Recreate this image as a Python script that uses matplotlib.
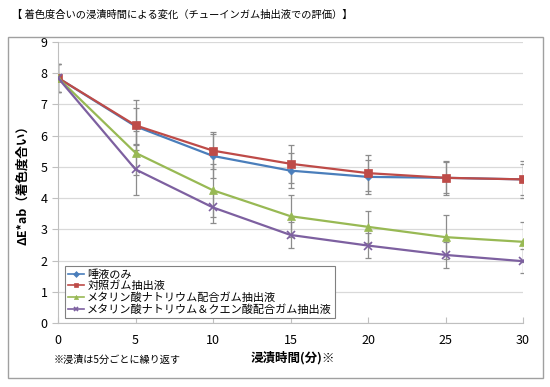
import matplotlib
matplotlib.use("Agg")
import matplotlib.pyplot as plt
from matplotlib.patches import Rectangle

plt.rcParams['font.family'] = ['Noto Sans CJK JP', 'DejaVu Sans']

times = [0, 5, 10, 15, 20, 25, 30]
labels = ['唾液のみ', '対照ガム抽出液', 'メタリン酸ナトリウム配合ガム抽出液', 'メタリン酸ナトリウム＆クエン酸配合ガム抽出液']
saliva = [7.85, 6.30, 5.35, 4.88, 4.68, 4.65, 4.60]
control = [7.85, 6.33, 5.52, 5.10, 4.80, 4.65, 4.60]
metaphos = [7.85, 5.45, 4.25, 3.42, 3.08, 2.75, 2.60]
metaphos_citric = [7.85, 4.92, 3.70, 2.82, 2.48, 2.18, 1.98]
err_saliva = [0.45, 0.60, 0.70, 0.55, 0.55, 0.50, 0.50]
err_control = [0.45, 0.80, 0.60, 0.60, 0.58, 0.55, 0.60]
err_metaphos = [0.45, 0.70, 0.85, 0.68, 0.52, 0.70, 0.64]
err_metaphos_citric = [0.45, 0.82, 0.50, 0.42, 0.40, 0.42, 0.38]

series = [saliva, control, metaphos, metaphos_citric]
errs = [err_saliva, err_control, err_metaphos, err_metaphos_citric]
colors = ['#4A7EBB', '#BE4B48', '#98B954', '#7D60A0']
markers = ['D', 's', '^', 'x']
msizes = [3.5, 6, 6, 6]

fig = plt.figure(figsize=(5.5, 3.87), dpi=100)
fig.patches.append(Rectangle((8/550, 1-378/387), 535/550, 341/387, transform=fig.transFigure,
                             fill=False, edgecolor='#A0A0A0', linewidth=1))
ax = fig.add_axes([58/550, 1-323/387, 465/550, 281/387])

for s, e in zip(series, errs):
    ax.errorbar(times, s, yerr=e, fmt='none', ecolor='#8C8C8C', elinewidth=0.9, capsize=2, capthick=0.9, zorder=2)
for s, c, m, ms, lab in zip(series, colors, markers, msizes, labels):
    ax.plot(times, s, color=c, marker=m, markersize=ms, linewidth=1.6, label=lab, zorder=3,
            markeredgewidth=1.2 if m == 'x' else 0.5)

ax.set_xlim(0, 30)
ax.set_ylim(0, 9)
ax.set_xticks(times)
ax.set_yticks(range(0, 10))
ax.yaxis.grid(True, color='#D9D9D9', linewidth=0.9)
ax.set_axisbelow(True)
for sp in ['top', 'right']:
    ax.spines[sp].set_visible(False)
ax.spines['left'].set_color('#BFBFBF')
ax.spines['bottom'].set_color('#BFBFBF')
ax.tick_params(axis='both', colors='#BFBFBF', labelcolor='black', labelsize=9)
ax.tick_params(axis='x', direction='in', length=4, pad=8)
ax.tick_params(axis='y', direction='out', length=4)

ax.set_ylabel('ΔE*ab（着色度合い）', fontsize=9, fontweight='bold', labelpad=8)
fig.text(293/550, 1-358/387, '浸漬時間(分)※', fontsize=9, fontweight='bold', ha='center', va='center')
fig.text(54/550, 1-360/387, '※浸漬は5分ごとに繰り返す', fontsize=7.3, ha='left', va='center')
fig.text(12/550, 1-15/387, '【 着色度合いの浸漬時間による変化（チューインガム抽出液での評価）】', fontsize=7.4,
         ha='left', va='center')

leg = ax.legend(loc='lower left', bbox_to_anchor=(7/465, 5/281), fontsize=8, frameon=True, fancybox=False,
                edgecolor='#808080', framealpha=1, handlelength=1.4, handletextpad=0.3, labelspacing=0.1,
                borderpad=0.3, borderaxespad=0)
leg.get_frame().set_linewidth(0.8)
for h in leg.legend_handles:
    h.set_linewidth(1.2)
    h.set_markersize(3)

fig.savefig('out.png', dpi=100)
